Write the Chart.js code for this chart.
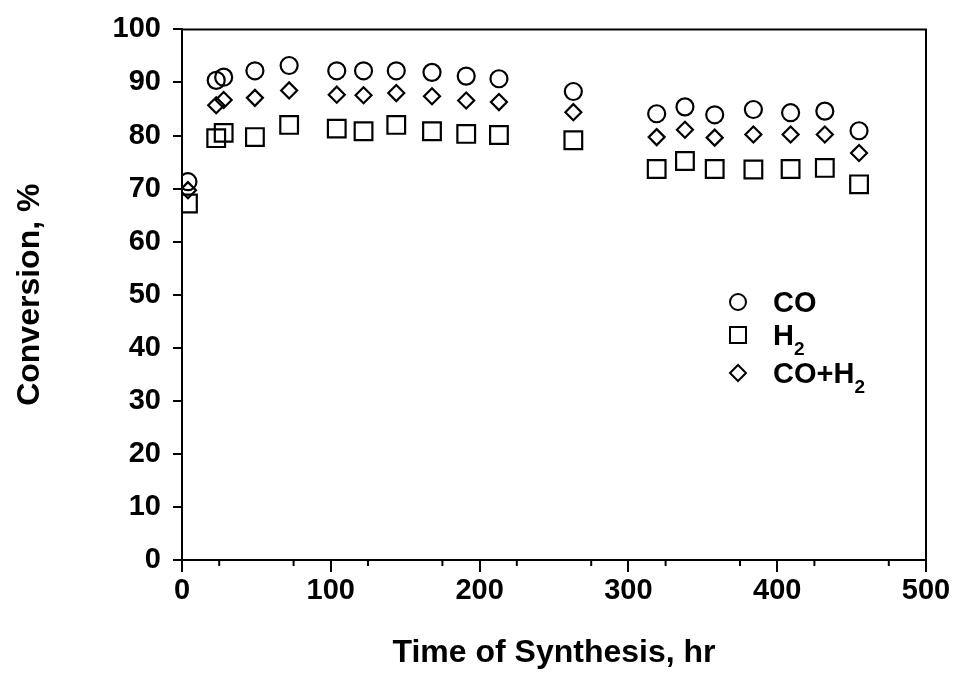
<!DOCTYPE html>
<html>
<head>
<meta charset="utf-8">
<script src="https://cdn.jsdelivr.net/npm/chart.js@4/dist/chart.umd.min.js"></script>
<style>
  html, body { margin: 0; padding: 0; background: #fff; }
  canvas { display: block; }
</style>
</head>
<body>
<canvas id="conversion-chart" width="953" height="673"></canvas>
<script>
// time of synthesis, hr
const hours = [4, 23, 28, 49, 72, 104, 122, 144, 168, 191, 213, 263, 319, 338, 358, 384, 409, 432, 455];
// conversion, %
const coConv = [71.3, 90.4, 91.0, 92.2, 93.2, 92.2, 92.2, 92.2, 91.9, 91.2, 90.7, 88.3, 84.1, 85.4, 83.9, 84.9, 84.3, 84.6, 80.9];
const h2Conv = [67.2, 79.5, 80.5, 79.7, 82.0, 81.3, 80.8, 82.0, 80.8, 80.3, 80.1, 79.1, 73.7, 75.2, 73.7, 73.6, 73.7, 73.9, 70.8];
const totalConv = [69.7, 85.7, 86.7, 87.1, 88.5, 87.7, 87.6, 88.0, 87.4, 86.6, 86.3, 84.4, 79.7, 81.1, 79.6, 80.2, 80.2, 80.2, 76.7];
const seriesLabels = ['CO', 'H₂', 'CO+H₂'];
const xTicks = [0, 100, 200, 300, 400, 500];
const yTicks = [0, 10, 20, 30, 40, 50, 60, 70, 80, 90, 100];

const FONT = '"Liberation Sans", Arial, Helvetica, sans-serif';

const toPoints = (vals) => vals.map((v, i) => ({ x: hours[i], y: v }));

// box on top/right, minor x ticks, legend inside plot
const framePlugin = {
  id: 'frame',
  afterDraw(chart) {
    const { ctx, chartArea: a, scales } = chart;
    ctx.save();
    ctx.strokeStyle = '#000';
    ctx.lineWidth = 2;
    ctx.beginPath();
    ctx.moveTo(a.left, a.top);
    ctx.lineTo(a.right, a.top);
    ctx.lineTo(a.right, a.bottom);
    ctx.stroke();

    // minor ticks every 25 hr
    for (let t = 25; t < 500; t += 50) {
      const px = scales.x.getPixelForValue(t);
      ctx.beginPath();
      ctx.moveTo(px, a.bottom);
      ctx.lineTo(px, a.bottom + 6);
      ctx.stroke();
    }

    // legend
    const items = chart.data.datasets.map((ds) => ({ label: ds.label, style: ds.pointStyle }));
    const x0 = 738, ys = [302, 335, 373];
    items.forEach((it, i) => {
      const y = ys[i];
      ctx.beginPath();
      if (it.style === 'circle') {
        ctx.arc(x0, y, 8, 0, Math.PI * 2);
      } else if (it.style === 'rect') {
        ctx.rect(x0 - 8, y - 8, 16, 16);
      } else {
        ctx.moveTo(x0 - 8, y); ctx.lineTo(x0, y - 8); ctx.lineTo(x0 + 8, y); ctx.lineTo(x0, y + 8); ctx.closePath();
      }
      ctx.stroke();

      let tx = 773;
      ctx.fillStyle = '#000';
      ctx.textBaseline = 'alphabetic';
      for (const ch of it.label) {
        if (ch === '₂') {
          ctx.font = 'bold 19px ' + FONT;
          ctx.fillText('2', tx, y + 20);
          tx += ctx.measureText('2').width;
        } else {
          ctx.font = 'bold 29px ' + FONT;
          ctx.fillText(ch, tx, y + 10);
          tx += ctx.measureText(ch).width;
        }
      }
    });
    ctx.restore();
  }
};

const markerBase = {
  showLine: false,
  borderColor: '#000',
  backgroundColor: 'rgba(0,0,0,0)',
  pointBorderWidth: 2.2,
};

const ctx = document.getElementById('conversion-chart').getContext('2d');
const chart = new Chart(ctx, {
  type: 'scatter',
  data: {
    datasets: [
      { ...markerBase, label: seriesLabels[0], data: toPoints(coConv), pointStyle: 'circle', pointRadius: 8.5 },
      { ...markerBase, label: seriesLabels[1], data: toPoints(h2Conv), pointStyle: 'rect', pointRadius: 12.5 },
      { ...markerBase, label: seriesLabels[2], data: toPoints(totalConv), pointStyle: 'rectRot', pointRadius: 8 },
    ],
  },
  options: {
    responsive: false,
    animation: false,
    layout: { padding: { top: 25, right: 27, left: 0, bottom: 0 } },
    plugins: {
      legend: { display: false },
      tooltip: { enabled: false },
    },
    scales: {
      x: {
        type: 'linear',
        min: 0,
        max: 500,
        afterBuildTicks: (scale) => { scale.ticks = xTicks.map((v) => ({ value: v })); },
        afterFit: (scale) => { scale.height = 113; },
        border: { display: true, color: '#000', width: 2 },
        grid: { drawOnChartArea: false, drawTicks: true, tickLength: 12, color: '#000', lineWidth: 2 },
        ticks: { color: '#000', padding: 2, maxRotation: 0, font: { family: FONT, size: 29, weight: 'bold' } },
        title: {
          display: true,
          text: 'Time of Synthesis, hr',
          color: '#000',
          padding: { top: 1, bottom: 1 },
          font: { family: FONT, size: 32, weight: 'bold' },
        },
      },
      y: {
        min: 0,
        max: 100,
        afterBuildTicks: (scale) => { scale.ticks = yTicks.map((v) => ({ value: v })); },
        afterFit: (scale) => { scale.width = 182; },
        border: { display: true, color: '#000', width: 2 },
        grid: { drawOnChartArea: false, drawTicks: true, tickLength: 9, color: '#000', lineWidth: 2 },
        ticks: { color: '#000', padding: 12, font: { family: FONT, size: 29, weight: 'bold' } },
        title: {
          display: true,
          text: 'Conversion, %',
          color: '#000',
          padding: { top: 11, bottom: 11 },
          font: { family: FONT, size: 32, weight: 'bold' },
        },
      },
    },
  },
  plugins: [framePlugin],
});
</script>
</body>
</html>
